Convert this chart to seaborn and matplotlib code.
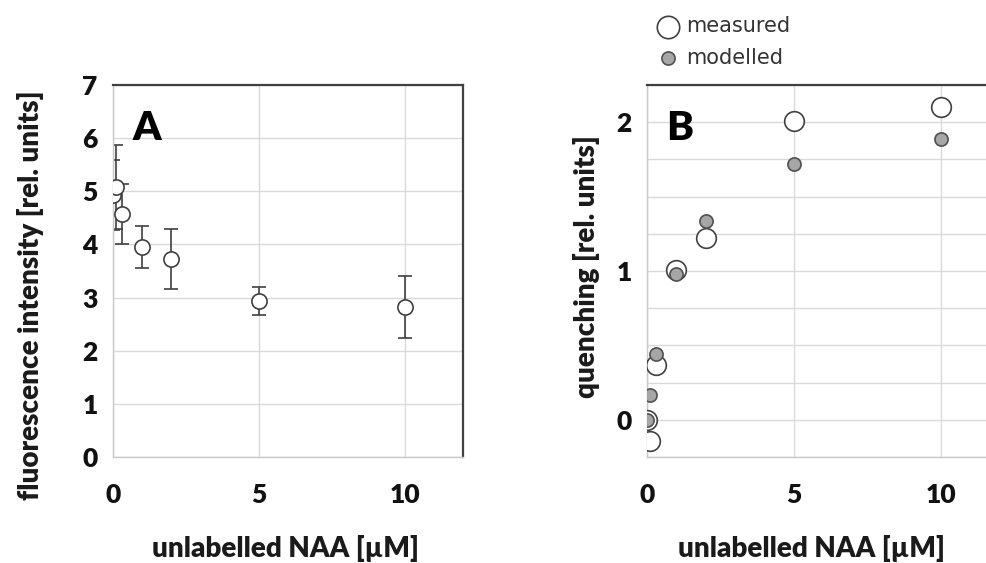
import numpy as np
import pandas as pd
import seaborn as sns
import matplotlib.pyplot as plt

# concentrations of unlabelled NAA [uM]
conc = [0, 0.1, 0.3, 1, 2, 5, 10]

# panel A: fluorescence intensity with error bars
intensity = [4.93, 5.08, 4.57, 3.95, 3.73, 2.93, 2.82]
intensity_err = [0.65, 0.79, 0.56, 0.40, 0.56, 0.26, 0.59]

# panel B: quenching, measured vs modelled
quench_measured = [0.0, -0.14, 0.365, 1.005, 1.22, 2.01, 2.105]
quench_modelled = [0.0, 0.167, 0.444, 0.977, 1.338, 1.716, 1.885]

x_ticks = [0, 5, 10]
a_yticks = [0, 1, 2, 3, 4, 5, 6, 7]
b_grid = [-0.25, 0, 0.25, 0.5, 0.75, 1, 1.25, 1.5, 1.75, 2, 2.25]
b_labels = ['', '0', '', '', '', '1', '', '', '', '2', '']

sns.set_theme(style="white")
plt.rcParams['font.family'] = ['Lato', 'DejaVu Sans']

DARK = '#404040'
GRID = '#d9d9d9'
WEIGHT = 'heavy'
LABEL_FONT = dict(fontsize=20, fontweight=WEIGHT, color='#1a1a1a')

fig = plt.figure(figsize=(9.86, 5.63), dpi=100)
W, H = 986, 563


def px_axes(left, top, width, height):
    return fig.add_axes([left / W, (H - top - height) / H, width / W, height / H])


def style_axes(ax):
    ax.set_facecolor('white')
    for side in ['top', 'right']:
        ax.spines[side].set_color(DARK)
        ax.spines[side].set_linewidth(1.6)
    for side in ['bottom', 'left']:
        ax.spines[side].set_color('#c8c8c8')
        ax.spines[side].set_linewidth(1.0)
    ax.grid(True, color=GRID, linewidth=1.0)
    ax.set_axisbelow(True)
    ax.tick_params(axis='both', length=0, labelsize=19)
    ax.tick_params(axis='x', pad=19)
    ax.tick_params(axis='y', pad=11)
    for lab in ax.get_xticklabels() + ax.get_yticklabels():
        lab.set_fontweight(WEIGHT)
        lab.set_color('#111111')


# ---------- panel A ----------
axA = px_axes(113, 85, 350, 372)
dfA = pd.DataFrame({'conc': conc, 'intensity': intensity, 'err': intensity_err})
axA.errorbar(dfA['conc'], dfA['intensity'], yerr=dfA['err'], fmt='none',
             ecolor=DARK, elinewidth=1.2, capsize=5, capthick=1.2, zorder=2)
sns.scatterplot(data=dfA, x='conc', y='intensity', ax=axA, s=120,
                color='white', edgecolor=DARK, linewidth=1.2, zorder=3)
axA.set_xlim(0, 12)
axA.set_ylim(0, 7)
axA.set_xticks(x_ticks)
axA.set_xticklabels([str(v) for v in x_ticks])
axA.set_yticks(a_yticks)
axA.set_yticklabels([str(v) for v in a_yticks])
style_axes(axA)
axA.set_xlabel('unlabelled NAA [µM]', **LABEL_FONT)
axA.set_ylabel('fluorescence intensity [rel. units]', **LABEL_FONT)
axA.xaxis.set_label_coords(0.494, -0.245)
axA.yaxis.set_label_coords(-0.237, 0.435)
axA.xaxis.label.set_va('center')
axA.yaxis.label.set_va('center')

# ---------- panel B ----------
axB = px_axes(647, 85, 353, 372)
dfB = pd.DataFrame({'conc': conc,
                    'measured': quench_measured,
                    'modelled': quench_modelled})
sns.scatterplot(data=dfB, x='conc', y='measured', ax=axB, s=200,
                color='white', edgecolor=DARK, linewidth=1.2, zorder=3,
                label='measured')
sns.scatterplot(data=dfB, x='conc', y='modelled', ax=axB, s=90,
                color='#a6a6a6', edgecolor='#505050', linewidth=1.2, zorder=4,
                label='modelled')
axB.set_xlim(0, 12)
axB.set_ylim(-0.25, 2.25)
axB.set_xticks(x_ticks)
axB.set_xticklabels([str(v) for v in x_ticks])
axB.set_yticks(b_grid)
axB.set_yticklabels(b_labels)
style_axes(axB)
axB.set_xlabel('unlabelled NAA [µM]', **LABEL_FONT)
axB.set_ylabel('quenching [rel. units]', **LABEL_FONT)
axB.xaxis.set_label_coords(0.467, -0.245)
axB.yaxis.set_label_coords(-0.17, 0.511)
axB.xaxis.label.set_va('center')
axB.yaxis.label.set_va('center')

leg = axB.legend(loc='upper left', bbox_to_anchor=(650 / W, 1 - 8 / H),
                 bbox_transform=fig.transFigure, frameon=False,
                 handletextpad=0.45, labelspacing=0.55, borderaxespad=0,
                 handlelength=0.9, prop={'family': 'DejaVu Sans', 'size': 15})
for t in leg.get_texts():
    t.set_color('#333333')
leg.legend_handles[0].set_sizes([260])

# panel letters
fig.text(147 / W, 1 - 129 / H, 'A', fontsize=29, fontweight=WEIGHT,
         ha='center', va='center', color='black')
fig.text(680 / W, 1 - 128 / H, 'B', fontsize=29, fontweight=WEIGHT,
         ha='center', va='center', color='black')

fig.savefig('out.png', dpi=100, facecolor='white')
